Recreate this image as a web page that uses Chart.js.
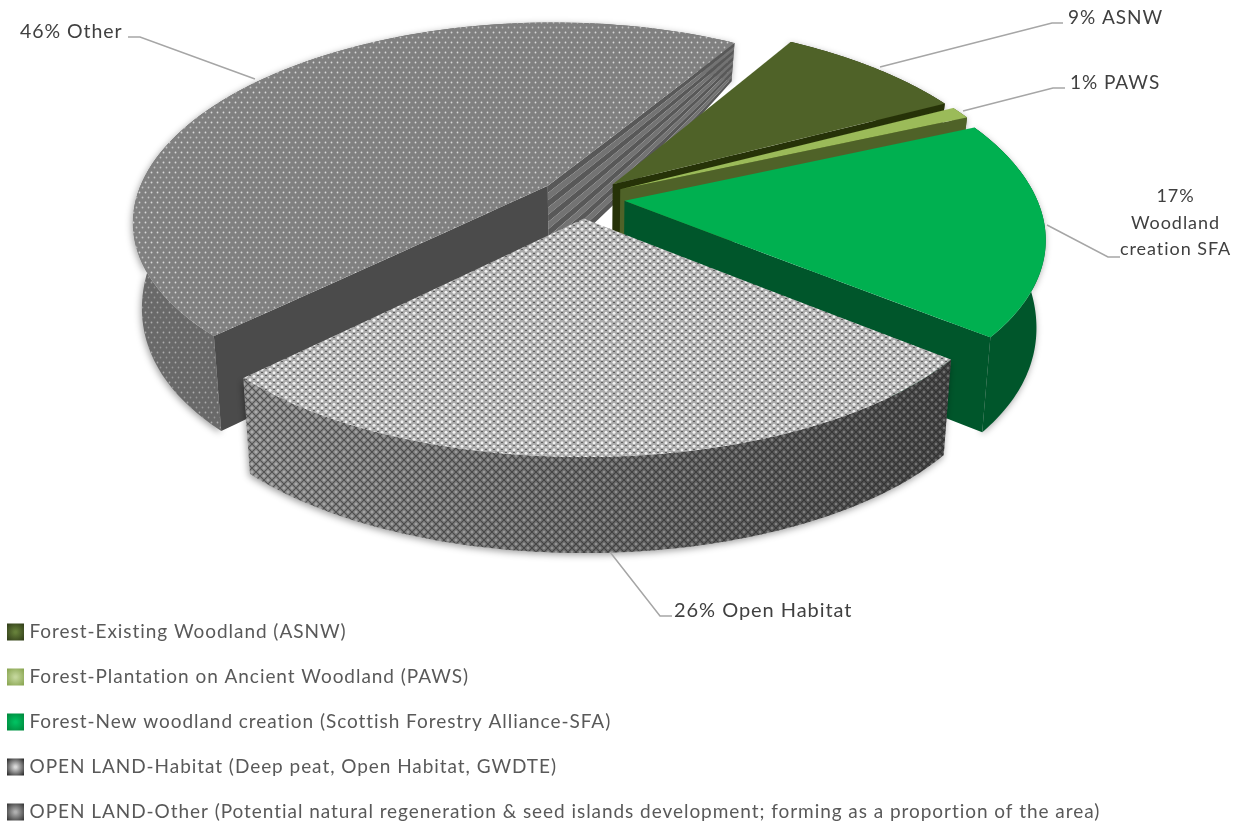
<!DOCTYPE html>
<html><head><meta charset="utf-8">
<style>html,body{margin:0;padding:0;background:#fff}canvas{display:block}</style>
<script src="https://cdn.jsdelivr.net/npm/chart.js@4/dist/chart.umd.min.js"></script>
</head><body>
<canvas id="c" width="1246" height="823"></canvas>
<script>
const categories = [
  "Forest-Existing Woodland (ASNW)",
  "Forest-Plantation on Ancient Woodland (PAWS)",
  "Forest-New woodland creation (Scottish Forestry Alliance-SFA)",
  "OPEN LAND-Habitat (Deep peat, Open Habitat, GWDTE)",
  "OPEN LAND-Other (Potential natural regeneration & seed islands development; forming as a proportion of the area)"
];
const values = [8.8, 1, 17.5, 26.6, 46.1];
const shortLabels = [["9% ASNW"], ["1% PAWS"], ["17%", "Woodland", "creation SFA"], ["26% Open Habitat"], ["46% Other"]];

/* view: a tilted disc, mapped scanline by scanline */
const VIEW = {cx: 581.5, cy: 198, s: 412, B: 193, p: 0.16, px: 0.178, k: 0.02, explode: 0.105, R: 360};
const FONT = 'Lato, "Open Sans", sans-serif';
const SPACING = '0.95px';

function tile(w, h, paint) {
  const c = document.createElement('canvas'); c.width = w; c.height = h;
  const g = c.getContext('2d'); paint(g);
  return g.createPattern(c, 'repeat');
}
const dot = (g, x, y, r, col) => { g.fillStyle = col; g.beginPath(); g.arc(x, y, r, 0, 7); g.fill(); };

const otherTop = tile(6, 10, g => {
  g.fillStyle = '#808080'; g.fillRect(0, 0, 6, 10);
  dot(g, 1.5, 2.5, .9, '#d8d8d8'); dot(g, 4.5, 7.5, .9, '#c4c4c4');
});
const habitatTop = tile(8, 7, g => {
  g.fillStyle = '#a9a9a9'; g.fillRect(0, 0, 8, 7);
  dot(g, 2, 1.8, 1.5, '#f2f2f2'); dot(g, 6, 5.2, 1.5, '#f2f2f2');
  g.fillStyle = '#5c5c5c'; g.fillRect(5, 1, 2, 1);  g.fillRect(1, 4, 2, 1);
});
const habitatWall = tile(8, 8, g => {
  g.strokeStyle = 'rgba(30,30,30,.55)'; g.lineWidth = 1.2;
  g.beginPath(); g.moveTo(0, 0); g.lineTo(8, 8); g.moveTo(8, 0); g.lineTo(0, 8); g.stroke();
  dot(g, 4, 0, 1.1, 'rgba(255,255,255,.28)'); dot(g, 4, 8, 1.1, 'rgba(255,255,255,.28)');
  dot(g, 0, 4, 1.1, 'rgba(255,255,255,.28)'); dot(g, 8, 4, 1.1, 'rgba(255,255,255,.28)');
});
const otherWall = tile(6, 10, g => {
  dot(g, 1.5, 2.5, .9, 'rgba(255,255,255,.45)'); dot(g, 4.5, 7.5, .9, 'rgba(255,255,255,.32)');
});

const topFills = ['#4f6228', '#9bbb59', '#00b050', habitatTop, otherTop];
const iconStops = [['#66803a', '#33401a'], ['#c3d69b', '#8aa652'], ['#00c060', '#008a3e'], ['#d8d8d8', '#2e2e2e'], ['#b0b0b0', '#3a3a3a']];

const T = Y => VIEW.cy + VIEW.B * Y / (1 - VIEW.p * Y);
const drop = Y => Y >= 0.9 ? 96 : 96 - 56 * Math.pow((0.9 - Y) / 1.8, 2);
function project(X, Y, z) {
  const w = 1 - VIEW.px * Y;
  return [VIEW.cx + VIEW.s * X / w * (1 - VIEW.k * z), T(Y) + z * drop(Y)];
}

/* side styling for each slice, by index */
function wallFill(ctx, i) {
  if (i === 3) {
    const g = ctx.createLinearGradient(245, 0, 950, 0);
    g.addColorStop(0, '#969696'); g.addColorStop(.45, '#737373'); g.addColorStop(1, '#4a4a4a');
    return [g, habitatWall];
  }
  if (i === 4) return ['#696969', otherWall];
  return [['#263208', '#4f6228', '#00562b'][i], null];
}
const endFaceFill = ['#263208', '#4f6228', '#00562b', null, '#585858'];
const startFaceFill = [null, null, null, null, '#4b4b4b'];

function poly(ctx, pts) {
  ctx.beginPath();
  pts.forEach((q, n) => n ? ctx.lineTo(q[0], q[1]) : ctx.moveTo(q[0], q[1]));
  ctx.closePath();
}

function drawSlice(ctx, chart, el, i) {
  const R = el.outerRadius, a0 = el.startAngle, a1 = el.endAngle, h = (a0 + a1) / 2;
  const ox = Math.cos(h) * VIEW.explode, oy = Math.sin(h) * VIEW.explode;
  const edge = a => [ox + Math.cos(a), oy + Math.sin(a)];

  /* curved wall */
  const topPts = [], botPts = [];
  let minY = oy, maxY = oy;
  for (let n = 0; n <= 90; n++) {
    const a = a0 + (a1 - a0) * n / 90, e = edge(a);
    minY = Math.min(minY, e[1]); maxY = Math.max(maxY, e[1]);
    topPts.push(project(e[0], e[1], 0)); botPts.unshift(project(e[0], e[1], 1));
  }
  const [base, over] = wallFill(ctx, i);
  ctx.save();
  ctx.shadowColor = 'rgba(0,0,0,.38)'; ctx.shadowBlur = 7; ctx.shadowOffsetX = -1; ctx.shadowOffsetY = 2;
  poly(ctx, topPts.concat(botPts)); ctx.fillStyle = base; ctx.fill();
  ctx.restore();
  if (over) { poly(ctx, topPts.concat(botPts)); ctx.fillStyle = over; ctx.fill(); }

  /* straight cut faces that look towards the viewer */
  const face = (a, col, stripes) => {
    const e = edge(a), N = 24, M = stripes ? 11 : 1;
    for (let m = 0; m < M; m++) {
      const z0 = m / M, z1 = (m + 1) / M, up = [], dn = [];
      for (let n = 0; n <= N; n++) {
        const X = ox + (e[0] - ox) * n / N, Y = oy + (e[1] - oy) * n / N;
        up.push(project(X, Y, z0)); dn.unshift(project(X, Y, z1));
      }
      poly(ctx, up.concat(dn));
      ctx.fillStyle = stripes && m % 2 ? '#737373' : col; ctx.fill();
    }
  };
  if (-Math.cos(a0) > 0 && startFaceFill[i]) face(a0, startFaceFill[i], false);
  if (Math.cos(a1) > 0 && endFaceFill[i]) face(a1, endFaceFill[i], i === 4);

  /* top surface: the library's arc, one scanline at a time */
  const y0 = Math.floor(T(minY)) - 1, y1 = Math.ceil(T(maxY)) + 1;
  const fill = topFills[i], isPattern = typeof fill !== 'string';
  for (let y = y0; y < y1; y++) {
    const v0 = y - VIEW.cy, v1 = v0 + 1;
    const Y0 = v0 / (VIEW.B + VIEW.p * v0), Y1 = v1 / (VIEW.B + VIEW.p * v1);
    const w = 1 - VIEW.px * (Y0 + Y1) / 2;
    const a = VIEW.s / (R * w), d = 1 / ((Y1 - Y0) * R);
    const e = VIEW.cx + a * (ox * R - el.x), f = y + d * (oy * R - el.y - Y0 * R);
    ctx.save();
    ctx.setTransform(1, 0, 0, 1, 0, 0);
    ctx.beginPath(); ctx.rect(0, y, chart.width, 1); ctx.clip();
    ctx.setTransform(a, 0, 0, d, e, f);
    if (isPattern) fill.setTransform(new DOMMatrix([1 / a, 0, 0, 1 / d, -e / a, -f / d]));
    el.draw(ctx);
    ctx.restore();
  }
}

const LEADERS = [
  {pts: [[880, 67], [1052, 23], [1063, 23]], x: 1068, y: 24, align: 'left', size: 19},
  {pts: [[963, 111], [1053, 88], [1065, 88]], x: 1070, y: 89, align: 'left', size: 19},
  {pts: [[1047, 225], [1108, 257], [1120, 257]], x: 1175.5, y: 202, align: 'center', lh: 26.5, size: 18},
  {pts: [[610, 552], [660, 616], [672, 616]], x: 674, y: 617, align: 'left', size: 20},
  {pts: [[255, 79], [140, 37], [128, 37]], x: 20, y: 38, align: 'left', size: 19.5}
];

const scene = {
  id: 'scene',
  beforeDraw(chart) { chart.ctx.letterSpacing = SPACING; },
  afterLayout(chart) {
    const lg = chart.legend;
    lg.left = -15; lg.right = 1246; lg.top = 596.5; lg.bottom = 3000;
  },
  beforeDatasetsDraw(chart) {
    const ctx = chart.ctx, els = chart.getDatasetMeta(0).data;
    [4, 0, 1, 2, 3].forEach(i => drawSlice(ctx, chart, els[i], i));
    ctx.save();
    ctx.setTransform(1, 0, 0, 1, 0, 0);
    LEADERS.forEach((l, i) => {
      ctx.strokeStyle = '#a6a6a6'; ctx.lineWidth = 1.5;
      ctx.beginPath();
      l.pts.forEach((q, n) => n ? ctx.lineTo(q[0], q[1]) : ctx.moveTo(q[0], q[1]));
      ctx.stroke();
      ctx.fillStyle = '#404040'; ctx.font = l.size + 'px ' + FONT; ctx.textAlign = l.align; ctx.textBaseline = 'alphabetic';
      shortLabels[i].forEach((t, n) => ctx.fillText(t, l.x, l.y + n * (l.lh || 0)));
    });
    ctx.restore();
    return false;
  }
};

new Chart(document.getElementById('c'), {
  type: 'pie',
  data: {labels: categories, datasets: [{data: values, backgroundColor: topFills, borderWidth: 0}]},
  options: {
    responsive: false, animation: false, events: [], rotation: 31, radius: VIEW.R,
    layout: {padding: 0},
    plugins: {
      tooltip: {enabled: false},
      legend: {
        position: 'chartArea', align: 'start',
        labels: {
          font: {family: FONT, size: 19}, color: '#595959', boxWidth: 9, boxHeight: 9, padding: 26,
          generateLabels(chart) {
            const base = Chart.overrides.doughnut.plugins.legend.labels.generateLabels(chart);
            return base.map((it, i) => {
              const yc = 632 + i * 45;
              const g = chart.ctx.createRadialGradient(15.5, yc, 1, 15.5, yc, 11);
              g.addColorStop(0, iconStops[i][0]); g.addColorStop(1, iconStops[i][1]);
              it.fillStyle = g; it.lineWidth = 8; it.strokeStyle = g;
              return it;
            });
          }
        }
      }
    }
  },
  plugins: [scene]
});
</script>
</body></html>
